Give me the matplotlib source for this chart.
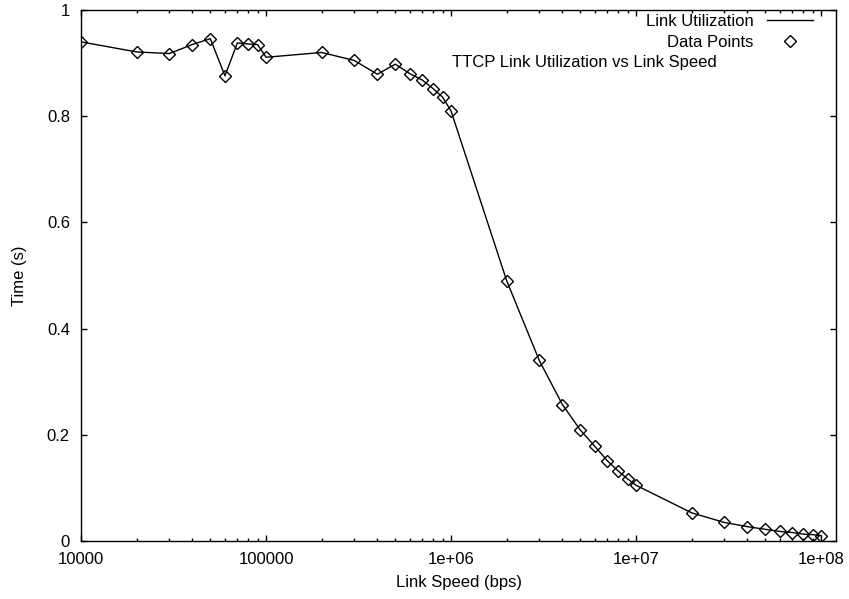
import matplotlib
matplotlib.use("Agg")
import matplotlib.pyplot as plt
from matplotlib.ticker import FixedLocator, NullFormatter
import numpy as np

plt.rcParams['font.family'] = ['Liberation Sans', 'DejaVu Sans']

# link speeds (bps) and measured utilization
speed = [1e4, 2e4, 3e4, 4e4, 5e4, 6e4, 7e4, 8e4, 9e4,
         1e5, 2e5, 3e5, 4e5, 5e5, 6e5, 7e5, 8e5, 9e5,
         1e6, 2e6, 3e6, 4e6, 5e6, 6e6, 7e6, 8e6, 9e6,
         1e7, 2e7, 3e7, 4e7, 5e7, 6e7, 7e7, 8e7, 9e7, 1e8]
util = [0.940, 0.921, 0.918, 0.935, 0.946, 0.876, 0.938, 0.936, 0.935,
        0.911, 0.920, 0.905, 0.879, 0.898, 0.880, 0.868, 0.852, 0.836,
        0.810, 0.490, 0.340, 0.257, 0.209, 0.178, 0.151, 0.132, 0.117,
        0.105, 0.053, 0.035, 0.027, 0.022, 0.018, 0.016, 0.013, 0.012, 0.010]

xticks = [1e4, 1e5, 1e6, 1e7, 1e8]
xticklabels = ["10000", "100000", "1e+06", "1e+07", "1e+08"]
yticks = [0, 0.2, 0.4, 0.6, 0.8, 1]
yticklabels = ["0", "0.2", "0.4", "0.6", "0.8", "1"]

fs = 12
fig = plt.figure(figsize=(8.49, 5.99), dpi=100)
ax = fig.add_axes([81/849, 1-541/599, (836-81)/849, (541-10)/599])

ax.plot(speed, util, color='black', lw=1.0, label='Link Utilization')
ax.plot(speed, util, ls='none', marker='D', ms=6.5, mfc='none', mec='black',
        mew=1.0, label='Data Points')

ax.set_xscale('log')
ax.set_xlim(1e4, 1.205e8)
ax.set_ylim(0, 1)

ax.xaxis.set_major_locator(FixedLocator(xticks))
ax.set_xticklabels(xticklabels)
minors = [m * 10**e for e in range(4, 9) for m in range(2, 10)]
ax.xaxis.set_minor_locator(FixedLocator(minors))
ax.xaxis.set_minor_formatter(NullFormatter())
ax.set_yticks(yticks)
ax.set_yticklabels(yticklabels)

ax.tick_params(which='both', direction='in', top=True, right=True,
               labelsize=fs, pad=8, width=1.0)
ax.tick_params(which='major', length=4)
ax.tick_params(which='minor', length=2.2)
for s in ax.spines.values():
    s.set_linewidth(1.0)

ax.set_xlabel('Link Speed (bps)', fontsize=fs, labelpad=6)
ax.set_ylabel('Time (s)', fontsize=fs, labelpad=14)

ax.legend(loc='upper right', frameon=False, markerfirst=False, fontsize=fs,
          handlelength=2.8, handletextpad=0.8, labelspacing=0.35,
          borderaxespad=0.0, bbox_to_anchor=(0.979, 1.005))
ax.text(452/849, 1-63/599, 'TTCP Link Utilization vs Link Speed',
        transform=fig.transFigure, fontsize=fs, ha='left', va='center')

fig.savefig('out.png', dpi=100)
